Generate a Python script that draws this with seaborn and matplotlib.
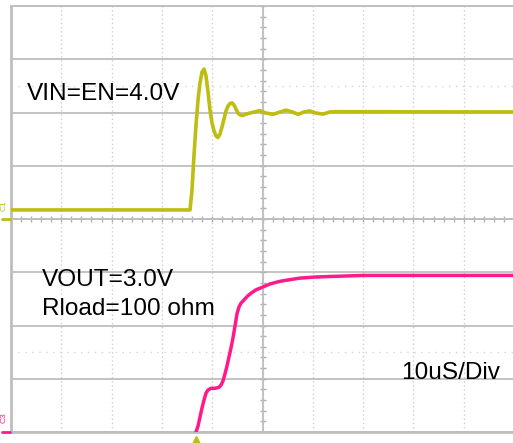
import numpy as np
import pandas as pd
import matplotlib
matplotlib.use('Agg')
import matplotlib.pyplot as plt
from matplotlib.lines import Line2D
from matplotlib.ticker import MultipleLocator
import seaborn as sns

# scope capture, time in us (10 us / div)
vin_time = [0.0, 35.59, 35.98, 36.38, 36.78, 37.18, 37.57, 37.97, 38.37, 38.77, 39.17,
            39.56, 39.96, 40.36, 40.76, 41.15, 41.55, 41.95, 42.35, 42.74, 43.14,
            43.54, 43.94, 44.33, 44.73, 45.13, 45.53, 46.12, 46.72, 47.51, 49.44,
            50.70, 52.09, 53.50, 54.67, 55.90, 57.06, 58.25, 59.38, 60.60, 62.03,
            63.40, 64.61, 100.0]
vin_volts = [0.34, 0.34, 1.09, 2.40, 3.53, 4.47, 5.11, 5.52, 5.63, 5.37, 4.77,
             4.09, 3.61, 3.31, 3.12, 3.06, 3.19, 3.46, 3.76, 4.06, 4.24,
             4.34, 4.36, 4.28, 4.13, 3.98, 3.91, 3.89, 3.94, 3.98, 4.07,
             3.98, 3.93, 4.02, 4.09, 4.02, 3.93, 4.02, 4.06, 3.98, 3.94,
             4.02, 4.03, 4.02]

vout_time = [36.78, 37.18, 37.57, 37.97, 38.37, 38.77, 39.17, 39.76, 40.56, 41.35,
             41.75, 42.15, 42.54, 42.94, 43.34, 43.74, 44.14, 44.53, 44.93, 45.33,
             45.73, 46.32, 47.12, 47.91, 48.71, 49.50, 50.50, 51.49, 53.48, 56.06,
             57.46, 60.44, 63.42, 69.98, 100.0]
vout_volts = [0.0, 0.11, 0.28, 0.45, 0.60, 0.73, 0.79, 0.82, 0.82, 0.84,
              0.88, 0.96, 1.09, 1.24, 1.41, 1.58, 1.77, 1.99, 2.22, 2.35,
              2.42, 2.48, 2.56, 2.62, 2.67, 2.70, 2.74, 2.78, 2.83, 2.87,
              2.89, 2.91, 2.92, 2.94, 2.94]

trigger_time = 36.8

# channel settings: volts per division and ground position (div)
vin_scale, vin_ground = 2.0, 0.0
vout_scale, vout_ground = 1.0, -4.0

yellow = '#BDBD12'
pink = '#FF1A8C'
grid_col = '#BEBEBE'

df_in = pd.DataFrame({'t': vin_time, 'div': np.array(vin_volts) / vin_scale + vin_ground})
df_out = pd.DataFrame({'t': vout_time, 'div': np.array(vout_volts) / vout_scale + vout_ground})

sns.set_style('white')
plt.rcParams['font.family'] = ['Liberation Sans', 'DejaVu Sans']

fig = plt.figure(figsize=(5.13, 4.43), dpi=100)
ax = fig.add_axes([11 / 513, 11 / 443, 502 / 513, 426 / 443])

sns.lineplot(data=df_in, x='t', y='div', color=yellow, linewidth=2.6,
             estimator=None, sort=False, ax=ax, zorder=5)
sns.lineplot(data=df_out, x='t', y='div', color=pink, linewidth=2.5,
             estimator=None, sort=False, ax=ax, zorder=5)

ax.set_xlim(0, 99.8)
ax.set_ylim(-4, 4)
ax.set_xlabel('')
ax.set_ylabel('')

# graticule
ax.xaxis.set_major_locator(MultipleLocator(10))
ax.yaxis.set_major_locator(MultipleLocator(1))
ax.xaxis.set_minor_locator(MultipleLocator(2))
ax.yaxis.set_minor_locator(MultipleLocator(0.2))
ax.grid(axis='x', which='major', linestyle=(0, (1, 2)), color='#CFCFCF', linewidth=1)
ax.grid(axis='y', which='major', linestyle='-', color=grid_col, linewidth=1.3)
for yy in [2.5, -2.5]:
    ax.axhline(yy, color='#D5D5D5', linestyle=(0, (1, 4)), linewidth=1, zorder=1)

ax.spines['left'].set_position(('data', 50))
ax.spines['bottom'].set_position(('data', 0))
ax.spines['right'].set_visible(False)
for s in ['left', 'bottom', 'top']:
    ax.spines[s].set_color(grid_col)
    ax.spines[s].set_linewidth(1.3)
ax.axvline(0, color=grid_col, linewidth=2, clip_on=False)
ax.axhline(-4, color=grid_col, linewidth=2, clip_on=False)
ax.tick_params(which='both', direction='inout', length=5, width=1, color='#AFAFAF',
               labelbottom=False, labelleft=False, bottom=True, left=True)

# labels
fs = 17.6
ax.text(3.2, 2.235, 'VIN=EN=4.0V', fontsize=fs, color='black', va='baseline', ha='left', zorder=6)
ax.text(6.1, -1.26, 'VOUT=3.0V', fontsize=fs, color='black', va='baseline', ha='left', zorder=6)
ax.text(6.1, -1.80, 'Rload=100 ohm', fontsize=fs, color='black', va='baseline', ha='left', zorder=6)
ax.text(77.5, -3.0, '10uS/Div', fontsize=fs, color='black', va='baseline', ha='left', zorder=6)

# channel markers and trigger
fig.text(0.2 / 513, 1 - 206 / 443, 'C1', rotation=90, fontsize=6, color=yellow,
         ha='left', va='center')
fig.add_artist(Line2D([2 / 513, 10 / 513], [1 - 219 / 443] * 2, color=yellow, linewidth=2))
fig.text(0.2 / 513, 1 - 418 / 443, 'C3', rotation=90, fontsize=6, color=pink,
         ha='left', va='center')
fig.add_artist(Line2D([2 / 513, 10 / 513], [1 - 432 / 443] * 2, color=pink, linewidth=2))
ax.plot([trigger_time], [-4.15], marker='^', color=yellow, markersize=6,
        linestyle='none', clip_on=False, zorder=6)

fig.savefig('out.png', dpi=100)
